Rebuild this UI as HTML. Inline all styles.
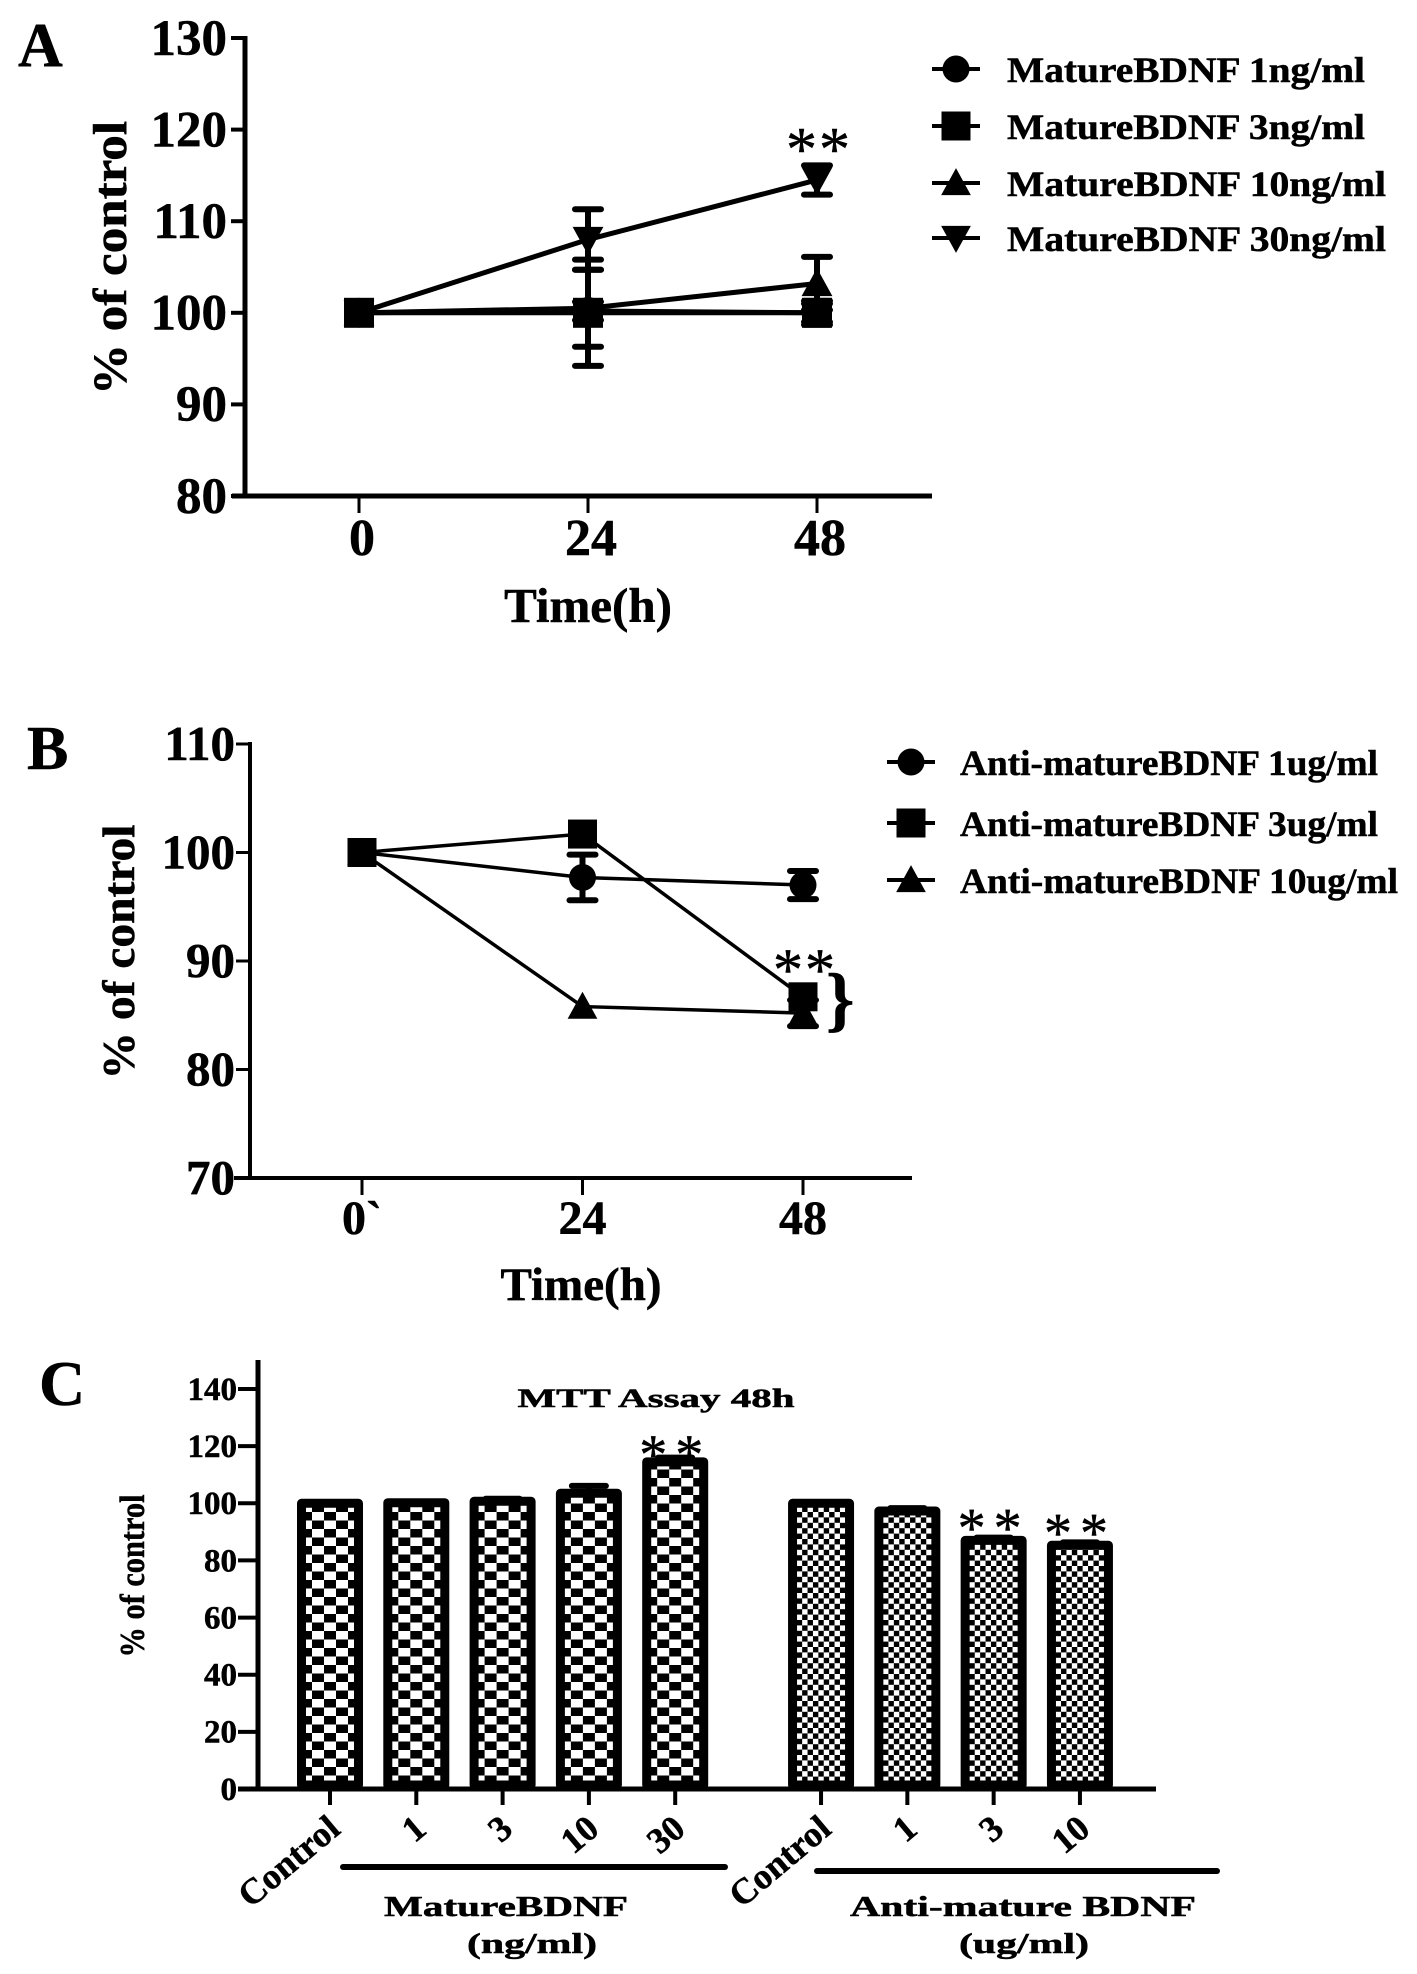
<!DOCTYPE html>
<html><head><meta charset="utf-8"><style>
html,body{margin:0;padding:0;background:#fff}
svg{display:block}
text{font-family:"Liberation Serif",serif;font-weight:bold;fill:#000;stroke:#000;stroke-width:.5px}
</style></head><body>
<svg id="fig" xmlns="http://www.w3.org/2000/svg" width="1417" height="1974" viewBox="0 0 1417 1974">
<defs id="defs"></defs>
<rect width="1417" height="1974" fill="#fff"/>
<g id="panelA">
<text x="18" y="66" font-size="62">A</text>
<text transform="translate(126,258) rotate(-90)" text-anchor="middle" font-size="48" textLength="274" lengthAdjust="spacingAndGlyphs">% of control</text>
<text x="588" y="622" text-anchor="middle" font-size="49">Time(h)</text>
<text x="819" y="170" text-anchor="middle" font-size="62" style="font-weight:normal;letter-spacing:2px">**</text>
</g>
<g id="panelB">
<text x="27" y="769" font-size="62">B</text>
<text transform="translate(134,952) rotate(-90)" text-anchor="middle" font-size="46" textLength="255" lengthAdjust="spacingAndGlyphs">% of control</text>
<text x="581" y="1300" text-anchor="middle" font-size="47">Time(h)</text>
<text x="805" y="990" text-anchor="middle" font-size="60" style="font-weight:normal;letter-spacing:2px">**</text>
<text x="826" y="1023" font-size="72">}</text>
</g>
<g id="panelC">
<text x="39" y="1405" font-size="64">C</text>
<text transform="translate(144,1576) rotate(-90)" text-anchor="middle" font-size="35" textLength="163" lengthAdjust="spacingAndGlyphs">% of control</text>
<text x="656" y="1407" text-anchor="middle" font-size="26" textLength="277" lengthAdjust="spacingAndGlyphs">MTT Assay 48h</text>
<rect x="340" y="1864" width="388" height="6" rx="3"/>
<rect x="814" y="1868" width="406" height="6" rx="3"/>
<text x="506" y="1916" text-anchor="middle" font-size="29" textLength="244" lengthAdjust="spacingAndGlyphs">MatureBDNF</text>
<text x="532" y="1953" text-anchor="middle" font-size="29" textLength="130" lengthAdjust="spacingAndGlyphs">(ng/ml)</text>
<text x="1023" y="1916" text-anchor="middle" font-size="29" textLength="346" lengthAdjust="spacingAndGlyphs">Anti-mature BDNF</text>
<text x="1024" y="1953" text-anchor="middle" font-size="29" textLength="130" lengthAdjust="spacingAndGlyphs">(ug/ml)</text>
</g>
</svg>
<script>
// Panel A data
const hoursA = [0, 24, 48];
const xLabelsA = ['0', '24', '48'];
const yTicksA = [80, 90, 100, 110, 120, 130];
const legendA = ['MatureBDNF 1ng/ml', 'MatureBDNF 3ng/ml', 'MatureBDNF 10ng/ml', 'MatureBDNF 30ng/ml'];
const a1 = [100, 100.2, 100];
const a1Err = [0, 1, 1.3];
const a3 = [100, 100, 100];
const a3Err = [0, 5.8, 1];
const a10 = [100, 100.5, 103.2];
const a10Err = [0, 4.2, 2.9];
const a30 = [100, 108, 114.5];
const a30Err = [0, 3.3, 1.6];
// Panel B data
const hoursB = [0, 24, 48];
const xLabelsB = ['0`', '24', '48'];
const yTicksB = [70, 80, 90, 100, 110];
const legendB = ['Anti-matureBDNF 1ug/ml', 'Anti-matureBDNF 3ug/ml', 'Anti-matureBDNF 10ug/ml'];
const b1 = [100, 97.7, 97];
const b1Err = [0, 2.1, 1.3];
const b3 = [100, 101.7, 86.7];
const b3Err = [0, 0, 0];
const b10 = [100, 85.8, 85.2];
const b10Err = [0, 0, 1.2];
// Panel C data
const matureLabels = ['Control', '1', '3', '10', '30'];
const matureValues = [100, 100.2, 100.7, 103.5, 114.5];
const matureErr = [0, 0.4, 0.9, 2.6, 1.5];
const antiLabels = ['Control', '1', '3', '10'];
const antiValues = [100, 97.3, 87, 85.3];
const antiErr = [0, 1, 1, 1];
const yTicksC = [0, 20, 40, 60, 80, 100, 120, 140];
const starredMature = ['30'];
const starredAnti = ['3', '10'];

const NS = 'http://www.w3.org/2000/svg';
function el(tag, parent, attrs, text) {
  const e = document.createElementNS(NS, tag);
  for (const k in attrs) e.setAttribute(k, attrs[k]);
  if (text !== undefined) e.textContent = text;
  parent.appendChild(e);
  return e;
}
function linear(d0, d1, r0, r1) {
  return v => r0 + (v - d0) * (r1 - r0) / (d1 - d0);
}
function marker(parent, kind, x, y, s, name) {
  let m;
  if (kind === 'circle') m = el('circle', parent, {cx: x, cy: y, r: s * 0.5});
  if (kind === 'square') m = el('rect', parent, {x: x - s / 2 - 1, y: y - s / 2 - 1, width: s + 2, height: s + 2});
  if (kind === 'up') m = el('polygon', parent, {points: `${x},${y - s * 0.55} ${x + s * 0.55},${y + s * 0.45} ${x - s * 0.55},${y + s * 0.45}`});
  if (kind === 'down') m = el('polygon', parent, {points: `${x},${y + s * 0.55} ${x + s * 0.55},${y - s * 0.45} ${x - s * 0.55},${y - s * 0.45}`});
  
  
}
function axes(g, o) {
  const ax = el('g', g, {stroke: '#000', 'stroke-width': o.axisW});
  
  
  el('line', ax, {x1: o.axisX, x2: o.axisX, y1: o.top, y2: o.axisY + 2});
  el('line', ax, {x1: o.xStart, x2: o.xEnd, y1: o.axisY, y2: o.axisY});
  o.yTicks.forEach(v => {
    const y = o.y(v);
    el('line', ax, {x1: o.axisX - o.tickL, x2: o.axisX, y1: y, y2: y, 'stroke-width': o.tickW});
    const t = el('text', g, {x: o.axisX - o.tickL - o.labelGap, y: y + o.yFont * 0.33, 'text-anchor': 'end', 'font-size': o.yFont}, String(v));
    
    
  });
}
function lineChart(g, o) {
  axes(g, o);
  o.cats.forEach((c, i) => {
    const x = o.x(c);
    const tk = el('line', g, {x1: x, x2: x, y1: o.axisY, y2: o.axisY + 17, stroke: '#000', 'stroke-width': 3});
    
    
    const t = el('text', g, {x: x + o.xLabelShift, y: o.xLabelY, 'text-anchor': 'middle', 'font-size': o.xFont}, o.xLabels[i]);
    
    
  });
  o.drawOrder.forEach(idx => {
    const s = o.series[idx];
    const sg = el('g', g, {});
    
    
    const pl = el('polyline', sg, {points: s.v.map((v, i) => o.x(o.cats[i]) + ',' + o.y(v)).join(' '), fill: 'none', stroke: '#000', 'stroke-width': o.lineW});
    
    
    s.v.forEach((v, i) => {
      const x = o.x(o.cats[i]);
      if (s.e[i] > 0) {
        const eb = el('path', sg, {d: `M${x} ${o.y(v + s.e[i])}V${o.y(v - s.e[i])}M${x - 13} ${o.y(v + s.e[i])}H${x + 13}M${x - 13} ${o.y(v - s.e[i])}H${x + 13}`, fill: 'none', stroke: '#000', 'stroke-width': 6, 'stroke-linecap': 'round'});
        
        
      }
      marker(sg, s.kind, x, o.y(v), o.markerS, 'point-' + s.id);
    });
  });
  o.legend.forEach((label, i) => {
    const row = el('g', g, {});
    
    
    const y = o.legendY[i];
    el('line', row, {x1: o.legendX - 24, x2: o.legendX + 24, y1: y, y2: y, stroke: '#000', 'stroke-width': 4});
    marker(row, o.series[i].kind, o.legendX, y, 27, 'legend-marker');
    const t = el('text', row, {x: o.legendTextX, y: y + 13, 'font-size': 36, textLength: o.legendLen[i], lengthAdjust: 'spacingAndGlyphs'}, label);
    
    
  });
}
const xA = linear(0, 48, 359, 817);
const yA = linear(80, 130, 496, 38);
lineChart(document.getElementById('panelA'), {
  x: xA, y: yA, cats: hoursA, xLabels: xLabelsA, yTicks: yTicksA,
  axisX: 245, axisY: 496, top: 36, xStart: 232, xEnd: 932, axisW: 5, tickL: 14, tickW: 4, yFont: 51, xFont: 52, xLabelY: 555, xLabelShift: 3, labelGap: 4,
  lineW: 5, markerS: 28, legend: legendA, legendX: 956, legendTextX: 1007, legendY: [69, 126, 183, 238], legendLen: [358, 358, 379, 379], drawOrder: [3, 2, 0, 1],
  series: [
    {id: 'mature-1', kind: 'circle', v: a1, e: a1Err},
    {id: 'mature-3', kind: 'square', v: a3, e: a3Err},
    {id: 'mature-10', kind: 'up', v: a10, e: a10Err},
    {id: 'mature-30', kind: 'down', v: a30, e: a30Err}
  ]
});
const xB = linear(0, 48, 362, 803);
const yB = linear(70, 110, 1178, 744);
lineChart(document.getElementById('panelB'), {
  x: xB, y: yB, cats: hoursB, xLabels: xLabelsB, yTicks: yTicksB,
  axisX: 250, axisY: 1178, top: 742, xStart: 234, xEnd: 912, axisW: 4, tickL: 14, tickW: 3, yFont: 49, xFont: 48, xLabelY: 1234, xLabelShift: 0, labelGap: 1,
  lineW: 3.5, markerS: 27, legend: legendB, legendX: 911, legendTextX: 960, legendY: [762, 823, 880], legendLen: [418, 418, 438], drawOrder: [2, 0, 1],
  series: [
    {id: 'anti-1', kind: 'circle', v: b1, e: b1Err},
    {id: 'anti-3', kind: 'square', v: b3, e: b3Err},
    {id: 'anti-10', kind: 'up', v: b10, e: b10Err}
  ]
});
// Panel C
const gC = document.getElementById('panelC');
const defs = document.getElementById('defs');
const yC = linear(0, 140, 1789, 1389);
const xC = linear(0, 1, 330, 416.3);
const barPositions = matureLabels.map((_, i) => i).concat(antiLabels.map((_, i) => i + 5 + 0.69));
const cLabels = matureLabels.concat(antiLabels);
const cValues = matureValues.concat(antiValues);
const cErrs = matureErr.concat(antiErr);
cLabels.forEach((lab, i) => {
  const cx = xC(barPositions[i]);
  const fine = i >= matureLabels.length;
  const cw = fine ? 5.4 : 12, ch = fine ? 5.4 : 8.5;
  const id = 'check' + i;
  const p = el('pattern', defs, {id: id, patternUnits: 'userSpaceOnUse', width: cw * 2, height: ch * 2, patternTransform: `translate(${cx - cw / 2},1512)`});
  el('rect', p, {x: 0, y: 0, width: cw * 2, height: ch * 2, fill: '#fff'});
  el('rect', p, {x: 0, y: 0, width: cw, height: ch, fill: '#000'});
  el('rect', p, {x: cw, y: ch, width: cw, height: ch, fill: '#000'});
  const top = yC(cValues[i]);
  if (cErrs[i] > 0) {
    const ye = yC(cValues[i] + cErrs[i]);
    const eb = el('path', gC, {d: `M${cx} ${top}V${ye}M${cx - 17} ${ye}H${cx + 17}`, stroke: '#000', 'stroke-width': 6, 'stroke-linecap': 'round', fill: 'none'});
    
    
  }
  const bar = el('rect', gC, {x: cx - 28.5, y: top, width: 57, height: 1785 - top, fill: `url(#${id})`, stroke: '#000', 'stroke-width': 9, 'stroke-linejoin': 'round'});
  
  
  const tk = el('line', gC, {x1: cx, x2: cx, y1: 1789, y2: 1805, stroke: '#000', 'stroke-width': 4});
  
  
  const t = el('text', gC, {transform: `translate(${cx + 12},1832) rotate(-40)`, 'text-anchor': 'end', 'font-size': 36}, lab);
  
  
  const starred = fine ? starredAnti.includes(lab) : starredMature.includes(lab);
  if (starred) {
    const s = el('text', gC, {x: cx, y: top + (fine ? 6 : 11), 'text-anchor': 'middle', 'font-size': 56, style: 'font-weight:normal;letter-spacing:8px'}, '**');
    
    
  }
});
axes(gC, {axisX: 258, axisY: 1789, top: 1360, xStart: 238, xEnd: 1156, axisW: 5, tickL: 20, tickW: 4, yFont: 33, labelGap: 1, yTicks: yTicksC, y: yC});
</script>
</body></html>
